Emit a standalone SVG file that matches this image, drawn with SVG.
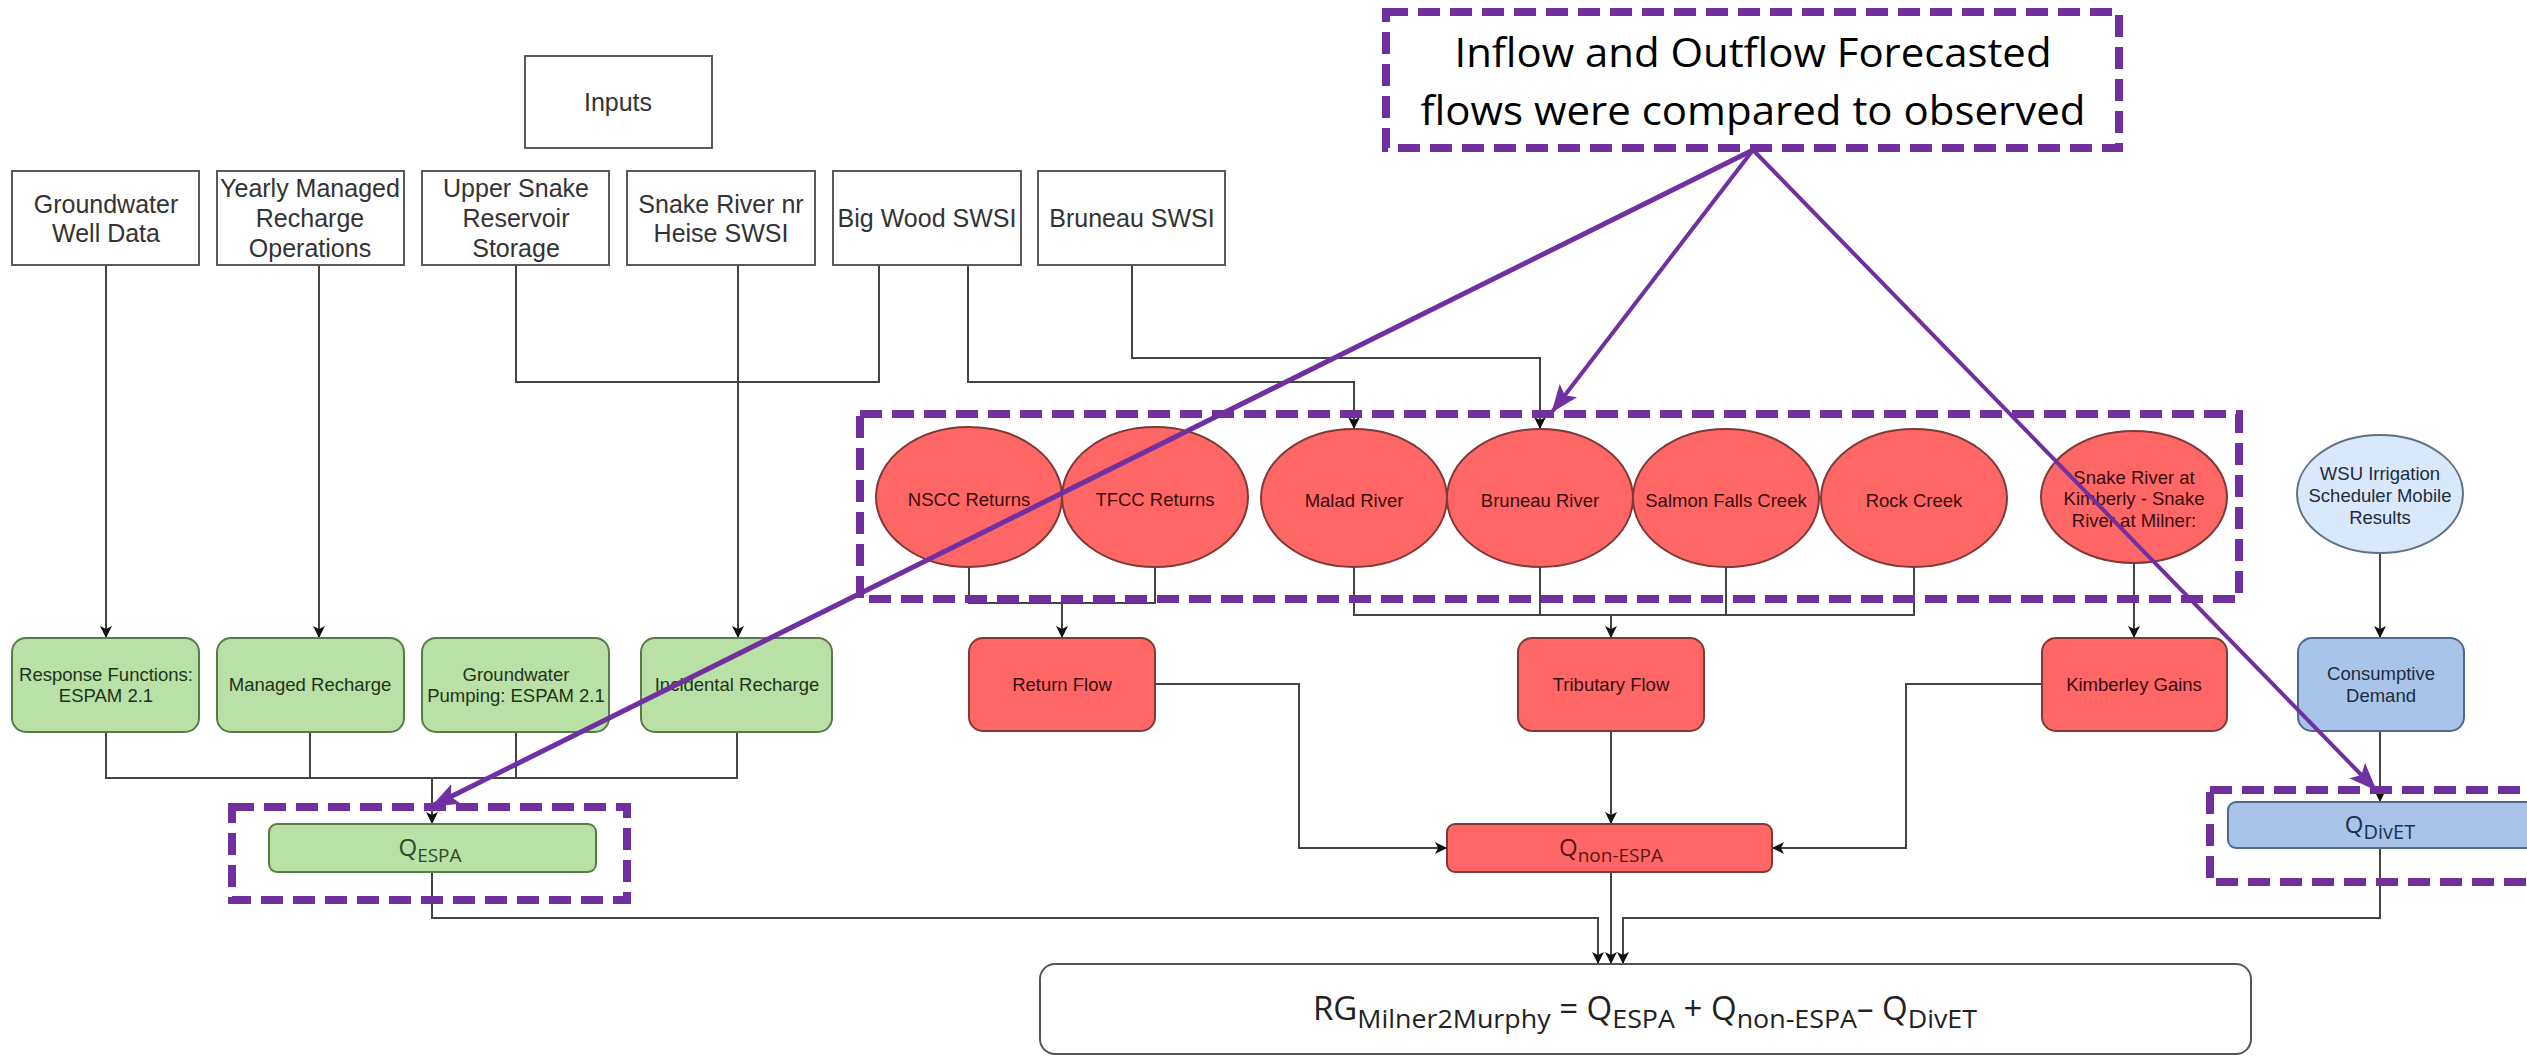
<svg xmlns="http://www.w3.org/2000/svg" width="2527" height="1057" viewBox="0 0 2527 1057">
<style>
.inbox{fill:#fff;stroke:#5a5a5a;stroke-width:2}
.t{font-family:"Liberation Sans",Arial,sans-serif;text-anchor:middle}
.it{font-size:25px;fill:#333}
.gbox{fill:#b9e0a5;stroke:#5b7a4b;stroke-width:2}
.gt{font-size:18.5px;fill:#1f3318}
.rbox{fill:#ff6666;stroke:#7e3a36;stroke-width:2}
.rt{font-size:18.5px;fill:#3a0d0d}
.bbox{fill:#a9c4eb;stroke:#4f6a8f;stroke-width:2}
.lbbox{fill:#dae8fc;stroke:#5f7181;stroke-width:2}
.bt{font-size:18.5px;fill:#1e2b3c}
.conn{fill:none;stroke:#444;stroke-width:2}
.pdash{fill:none;stroke:#7030a0;stroke-width:8;stroke-dasharray:22 10}
.pline{fill:none;stroke:#7030a0}
.q{font-family:"Open Sans","Noto Sans",sans-serif;text-anchor:middle}
</style>
<defs>
<marker id="arr" viewBox="0 0 12 12" refX="12" refY="6" markerWidth="12" markerHeight="12" markerUnits="userSpaceOnUse" orient="auto"><path d="M0,0 L12,6 L0,12 L3,6 Z" fill="#111"/></marker>
<marker id="parr" viewBox="0 0 28 22" refX="27" refY="11" markerWidth="28" markerHeight="22" markerUnits="userSpaceOnUse" orient="auto"><path d="M0,0 L28,11 L0,22 L6,11 Z" fill="#7030a0"/></marker>
</defs>
<rect width="2527" height="1057" fill="#fff"/>

<g id="connectors">
<path class="conn" d="M106,265 V638" marker-end="url(#arr)"/>
<path class="conn" d="M319,265 V638" marker-end="url(#arr)"/>
<path class="conn" d="M516,265 V382 H879 V265"/>
<path class="conn" d="M968,265 V382 H1354 V429" marker-end="url(#arr)"/>
<path class="conn" d="M1132,265 V358 H1540 V429" marker-end="url(#arr)"/>
<path class="conn" d="M738,265 V638" marker-end="url(#arr)"/>
<path class="conn" d="M969,567 V603 H1155 V567 M1062,603 V638" marker-end="url(#arr)"/>
<path class="conn" d="M1354,567 V615 H1914 V567 M1540,567 V615 M1726,567 V615"/>
<path class="conn" d="M1611,615 V638" marker-end="url(#arr)"/>
<path class="conn" d="M2134,563 V638" marker-end="url(#arr)"/>
<path class="conn" d="M2380,553 V638" marker-end="url(#arr)"/>
<path class="conn" d="M2380,731 V802" marker-end="url(#arr)"/>
<path class="conn" d="M106,732 V778 H737 V732 M310,732 V778 M516,732 V778"/>
<path class="conn" d="M432,778 V824" marker-end="url(#arr)"/>
<path class="conn" d="M1155,684 H1299 V848 H1447" marker-end="url(#arr)"/>
<path class="conn" d="M2042,684 H1906 V848 H1772" marker-end="url(#arr)"/>
<path class="conn" d="M1611,731 V824" marker-end="url(#arr)"/>
<path class="conn" d="M432,872 V918 H1598 V964" marker-end="url(#arr)"/>
<path class="conn" d="M1611,872 V964" marker-end="url(#arr)"/>
<path class="conn" d="M2380,848 V918 H1623 V964" marker-end="url(#arr)"/>
</g>

<g id="inputs"><rect class="inbox" x="525" y="56" width="187" height="92"/><text class="t it" x="618" y="111">Inputs</text></g>
<g id="groundwater-well-data"><rect class="inbox" x="12" y="171" width="187" height="94"/><text class="t it" x="106" y="213">Groundwater</text><text class="t it" x="106" y="242">Well Data</text></g>
<g id="yearly-managed"><rect class="inbox" x="217" y="171" width="187" height="94"/><text class="t it" x="310" y="197">Yearly Managed</text><text class="t it" x="310" y="227">Recharge</text><text class="t it" x="310" y="257">Operations</text></g>
<g id="upper-snake"><rect class="inbox" x="422" y="171" width="187" height="94"/><text class="t it" x="516" y="197">Upper Snake</text><text class="t it" x="516" y="227">Reservoir</text><text class="t it" x="516" y="257">Storage</text></g>
<g id="snake-heise"><rect class="inbox" x="627" y="171" width="188" height="94"/><text class="t it" x="721" y="213">Snake River nr</text><text class="t it" x="721" y="242">Heise SWSI</text></g>
<g id="big-wood"><rect class="inbox" x="833" y="171" width="188" height="94"/><text class="t it" x="927" y="227">Big Wood SWSI</text></g>
<g id="bruneau-swsi"><rect class="inbox" x="1038" y="171" width="187" height="94"/><text class="t it" x="1132" y="227">Bruneau SWSI</text></g>

<g id="response-functions"><rect class="gbox" x="12" y="638" width="187" height="94" rx="14"/><text class="t gt" x="106" y="681">Response Functions:</text><text class="t gt" x="106" y="702">ESPAM 2.1</text></g>
<g id="managed-recharge"><rect class="gbox" x="217" y="638" width="187" height="94" rx="14"/><text class="t gt" x="310" y="691">Managed Recharge</text></g>
<g id="groundwater-pumping"><rect class="gbox" x="422" y="638" width="187" height="94" rx="14"/><text class="t gt" x="516" y="681">Groundwater</text><text class="t gt" x="516" y="702">Pumping: ESPAM 2.1</text></g>
<g id="incidental-recharge"><rect class="gbox" x="641" y="638" width="191" height="94" rx="14"/><text class="t gt" x="737" y="691">Incidental Recharge</text></g>

<g id="nscc"><ellipse class="rbox" cx="969" cy="497" rx="93" ry="70"/><text class="t rt" x="969" y="506">NSCC Returns</text></g>
<g id="tfcc"><ellipse class="rbox" cx="1155" cy="497" rx="93" ry="70"/><text class="t rt" x="1155" y="506">TFCC Returns</text></g>
<g id="malad"><ellipse class="rbox" cx="1354" cy="498" rx="93" ry="69"/><text class="t rt" x="1354" y="507">Malad River</text></g>
<g id="bruneau-river"><ellipse class="rbox" cx="1540" cy="498" rx="93" ry="69"/><text class="t rt" x="1540" y="507">Bruneau River</text></g>
<g id="salmon-falls"><ellipse class="rbox" cx="1726" cy="498" rx="93" ry="69"/><text class="t rt" x="1726" y="507">Salmon Falls Creek</text></g>
<g id="rock-creek"><ellipse class="rbox" cx="1914" cy="498" rx="93" ry="69"/><text class="t rt" x="1914" y="507">Rock Creek</text></g>
<g id="kimberly"><ellipse class="rbox" cx="2134" cy="497" rx="93" ry="66"/><text class="t rt" x="2134" y="484">Snake River at</text><text class="t rt" x="2134" y="505">Kimberly - Snake</text><text class="t rt" x="2134" y="527">River at Milner:</text></g>
<g id="wsu"><ellipse class="lbbox" cx="2380" cy="494" rx="83" ry="59"/><text class="t bt" x="2380" y="480">WSU Irrigation</text><text class="t bt" x="2380" y="502">Scheduler Mobile</text><text class="t bt" x="2380" y="524">Results</text></g>

<g id="return-flow"><rect class="rbox" x="969" y="638" width="186" height="93" rx="14"/><text class="t rt" x="1062" y="691">Return Flow</text></g>
<g id="tributary-flow"><rect class="rbox" x="1518" y="638" width="186" height="93" rx="14"/><text class="t rt" x="1611" y="691">Tributary Flow</text></g>
<g id="kimberley-gains"><rect class="rbox" x="2042" y="638" width="185" height="93" rx="14"/><text class="t rt" x="2134" y="691">Kimberley Gains</text></g>
<g id="consumptive-demand"><rect class="bbox" x="2298" y="638" width="166" height="93" rx="14"/><text class="t bt" x="2381" y="680">Consumptive</text><text class="t bt" x="2381" y="702">Demand</text></g>

<g id="q-espa"><rect class="gbox" x="269" y="824" width="327" height="48" rx="8"/><text class="q" x="430" y="856" fill="#2f4a28"><tspan font-size="24">Q</tspan><tspan font-size="19" dy="6">ESPA</tspan></text></g>
<g id="q-non-espa"><rect class="rbox" x="1447" y="824" width="325" height="48" rx="8"/><text class="q" x="1611" y="856" fill="#5a1515"><tspan font-size="24">Q</tspan><tspan font-size="19" dy="6">non-ESPA</tspan></text></g>
<g id="q-divet"><rect class="bbox" x="2228" y="802" width="320" height="46" rx="8"/><text class="q" x="2380" y="833" fill="#1f2f4f"><tspan font-size="24">Q</tspan><tspan font-size="20" dy="6">DivET</tspan></text></g>

<g id="formula"><rect fill="#fff" stroke="#555" stroke-width="2" x="1040" y="964" width="1211" height="90" rx="15"/>
<text x="1313" y="1020" font-family="'Open Sans','Noto Sans',sans-serif" fill="#222" textLength="664" lengthAdjust="spacingAndGlyphs"><tspan font-size="32">RG</tspan><tspan font-size="26" dy="8">Milner2Murphy</tspan><tspan font-size="32" dy="-8"> = Q</tspan><tspan font-size="26" dy="8">ESPA</tspan><tspan font-size="32" dy="-8"> + Q</tspan><tspan font-size="26" dy="8">non-ESPA</tspan><tspan font-size="32" dy="-8">– Q</tspan><tspan font-size="26" dy="8">DivET</tspan></text></g>

<g id="annotation">
<rect class="pdash" x="1386" y="12" width="733" height="136"/>
<text x="1753" y="67" font-family="'Open Sans','Noto Sans',sans-serif" font-size="41" fill="#000" text-anchor="middle" textLength="597" lengthAdjust="spacingAndGlyphs">Inflow and Outflow Forecasted</text>
<text x="1753" y="125" font-family="'Open Sans','Noto Sans',sans-serif" font-size="41" fill="#000" text-anchor="middle" textLength="665" lengthAdjust="spacingAndGlyphs">flows were compared to observed</text>
</g>
<g id="highlights">
<rect class="pdash" x="860" y="414" width="1379" height="185"/>
<rect class="pdash" x="232" y="807" width="395" height="93"/>
<rect class="pdash" x="2210" y="790" width="400" height="92"/>
<path class="pline" stroke-width="5" d="M1753,150 L432,806" marker-end="url(#parr)"/>
<path class="pline" stroke-width="4" d="M1753,150 L1552,412" marker-end="url(#parr)"/>
<path class="pline" stroke-width="4" d="M1753,150 L2376,790" marker-end="url(#parr)"/>
</g>
</svg>
